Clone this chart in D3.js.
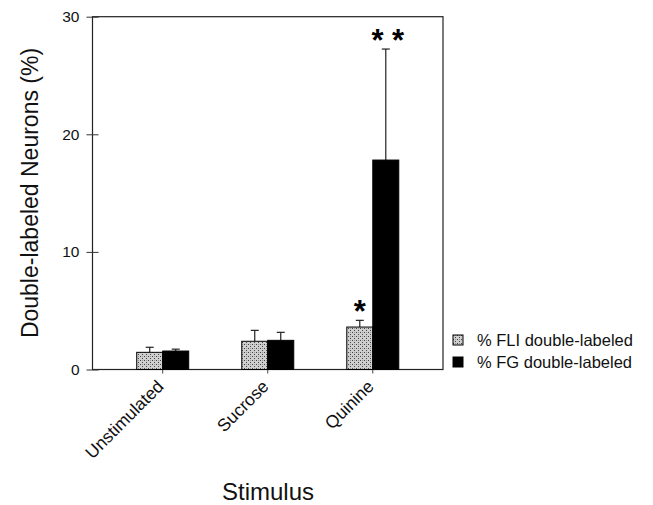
<!DOCTYPE html>
<html>
<head>
<meta charset="utf-8">
<script src="https://cdn.jsdelivr.net/npm/d3@7"></script>
<style>
  body { margin: 0; background: #fff; }
  svg { font-family: "Liberation Sans", Arial, sans-serif; }
</style>
</head>
<body>
<div id="chart"></div>
<script>
// values (percent of neurons)
let categories = ["Unstimulated", "Sucrose", "Quinine"];
let seriesNames = ["% FLI double-labeled", "% FG double-labeled"];
let fliValues = [1.46, 2.40, 3.61];
let fliErrors = [0.43, 0.93, 0.57];
let fgValues = [1.57, 2.48, 17.81];
let fgErrors = [0.16, 0.68, 9.44];
let fliStars = ["", "", "*"];
let fgStars = ["", "", "* *"];
let yTicks = [0, 10, 20, 30];

function graph(id) {
    let width = 653, height = 505;
    let left = 92.5, right = 443, top = 16.7, bottom = 369.5;
    let barWidth = 26;

    let svg = d3.select(id).append("svg")
        .attr("width", width)
        .attr("height", height);

    // stippled fill for the FLI bars
    let pat = svg.append("defs").append("pattern")
        .attr("id", "stipple")
        .attr("width", 4).attr("height", 4)
        .attr("patternUnits", "userSpaceOnUse");
    pat.append("rect").attr("width", 4).attr("height", 4).attr("fill", "#cfcfcf");
    pat.append("rect").attr("x", 0).attr("y", 0).attr("width", 1).attr("height", 1).attr("fill", "#444");
    pat.append("rect").attr("x", 2).attr("y", 2).attr("width", 1).attr("height", 1).attr("fill", "#444");
    pat.append("rect").attr("x", 2).attr("y", 0).attr("width", 1).attr("height", 1).attr("fill", "#999");

    let y = d3.scaleLinear().domain([0, 30]).range([bottom, top]);
    let x0 = d3.scaleBand().domain(categories).range([left + 17.7, right - 17.7]);
    let x1 = d3.scaleBand().domain(["fli", "fg"]).range([0, barWidth * 2]);

    let rows = categories.map((c, i) => ({
        cat: c,
        bars: [
            {key: "fli", value: fliValues[i], err: fliErrors[i], star: fliStars[i]},
            {key: "fg", value: fgValues[i], err: fgErrors[i], star: fgStars[i]}
        ]
    }));
    let barX = (cat, key) => x0(cat) + x0.bandwidth() / 2 - barWidth + x1(key);

    // frame
    svg.append("rect")
        .attr("x", left).attr("y", top)
        .attr("width", right - left).attr("height", bottom - top)
        .attr("fill", "none").attr("stroke", "#222").attr("stroke-width", 1.2);

    // y axis
    let yAxis = svg.append("g")
        .attr("transform", `translate(${left},0)`)
        .call(d3.axisLeft(y).tickValues(yTicks).tickSize(6).tickPadding(7));
    yAxis.select(".domain").remove();
    yAxis.selectAll(".tick line").attr("x2", 6).attr("x1", -6).attr("stroke", "#333");
    yAxis.selectAll("text").attr("font-size", 15.5).attr("fill", "#111");

    // x axis (small ticks, rotated labels)
    let xAxis = svg.append("g")
        .attr("transform", `translate(0,${bottom})`)
        .call(d3.axisBottom(x0).tickSize(4).tickPadding(8));
    xAxis.select(".domain").remove();
    xAxis.selectAll(".tick line").attr("stroke", "#444");
    xAxis.selectAll("text")
        .attr("font-size", 17.5)
        .attr("fill", "#111")
        .attr("text-anchor", "end")
        .attr("x", 0).attr("y", 0).attr("dy", 0)
        .attr("transform", "translate(2,18) rotate(-45)");

    let groups = svg.selectAll("g.group")
        .data(rows)
        .enter()
        .append("g")
        .attr("class", "group");

    let bars = groups.selectAll("g.bar")
        .data(d => d.bars.map(b => Object.assign({cat: d.cat}, b)))
        .enter()
        .append("g")
        .attr("class", "bar");

    // error bars drawn first so the bar covers the stem
    bars.append("line")
        .attr("x1", d => barX(d.cat, d.key) + barWidth / 2)
        .attr("x2", d => barX(d.cat, d.key) + barWidth / 2)
        .attr("y1", d => y(d.value))
        .attr("y2", d => y(d.value + d.err))
        .attr("stroke", "#222").attr("stroke-width", 1.2);
    bars.append("line")
        .attr("x1", d => barX(d.cat, d.key) + barWidth / 2 - 4)
        .attr("x2", d => barX(d.cat, d.key) + barWidth / 2 + 4)
        .attr("y1", d => y(d.value + d.err))
        .attr("y2", d => y(d.value + d.err))
        .attr("stroke", "#222").attr("stroke-width", 1.2);

    bars.append("rect")
        .attr("x", d => barX(d.cat, d.key))
        .attr("y", d => y(d.value))
        .attr("width", barWidth)
        .attr("height", d => y(0) - y(d.value))
        .attr("fill", d => d.key == "fli" ? "url(#stipple)" : "#000")
        .attr("stroke", "#000").attr("stroke-width", 1);

    bars.filter(d => d.star != "")
        .append("text")
        .attr("x", d => barX(d.cat, d.key) + barWidth / 2 + (d.key == "fg" ? 2 : 0))
        .attr("y", d => y(d.value + d.err) + 2)
        .attr("text-anchor", "middle")
        .attr("font-size", 31)
        .attr("font-weight", "bold")
        .attr("xml:space", "preserve")
        .style("white-space", "pre")
        .text(d => d.star);

    // legend
    let legend = svg.selectAll("g.legend")
        .data(seriesNames)
        .enter()
        .append("g")
        .attr("class", "legend")
        .attr("transform", (d, i) => `translate(453,${335 + i * 22})`);
    legend.append("rect")
        .attr("width", 10).attr("height", 10)
        .attr("fill", (d, i) => i == 0 ? "url(#stipple)" : "#000")
        .attr("stroke", "#000").attr("stroke-width", 1);
    legend.append("text")
        .attr("x", 24).attr("y", 10.5)
        .attr("font-size", 16.5)
        .attr("fill", "#111")
        .text(d => d);

    // axis titles
    svg.append("text")
        .attr("transform", "translate(38,193) rotate(-90)")
        .attr("text-anchor", "middle")
        .attr("font-size", 23)
        .attr("fill", "#111")
        .text("Double-labeled Neurons (%)");
    svg.append("text")
        .attr("x", 268).attr("y", 500)
        .attr("text-anchor", "middle")
        .attr("font-size", 24)
        .attr("fill", "#111")
        .text("Stimulus");
}

graph("#chart");
</script>
</body>
</html>
